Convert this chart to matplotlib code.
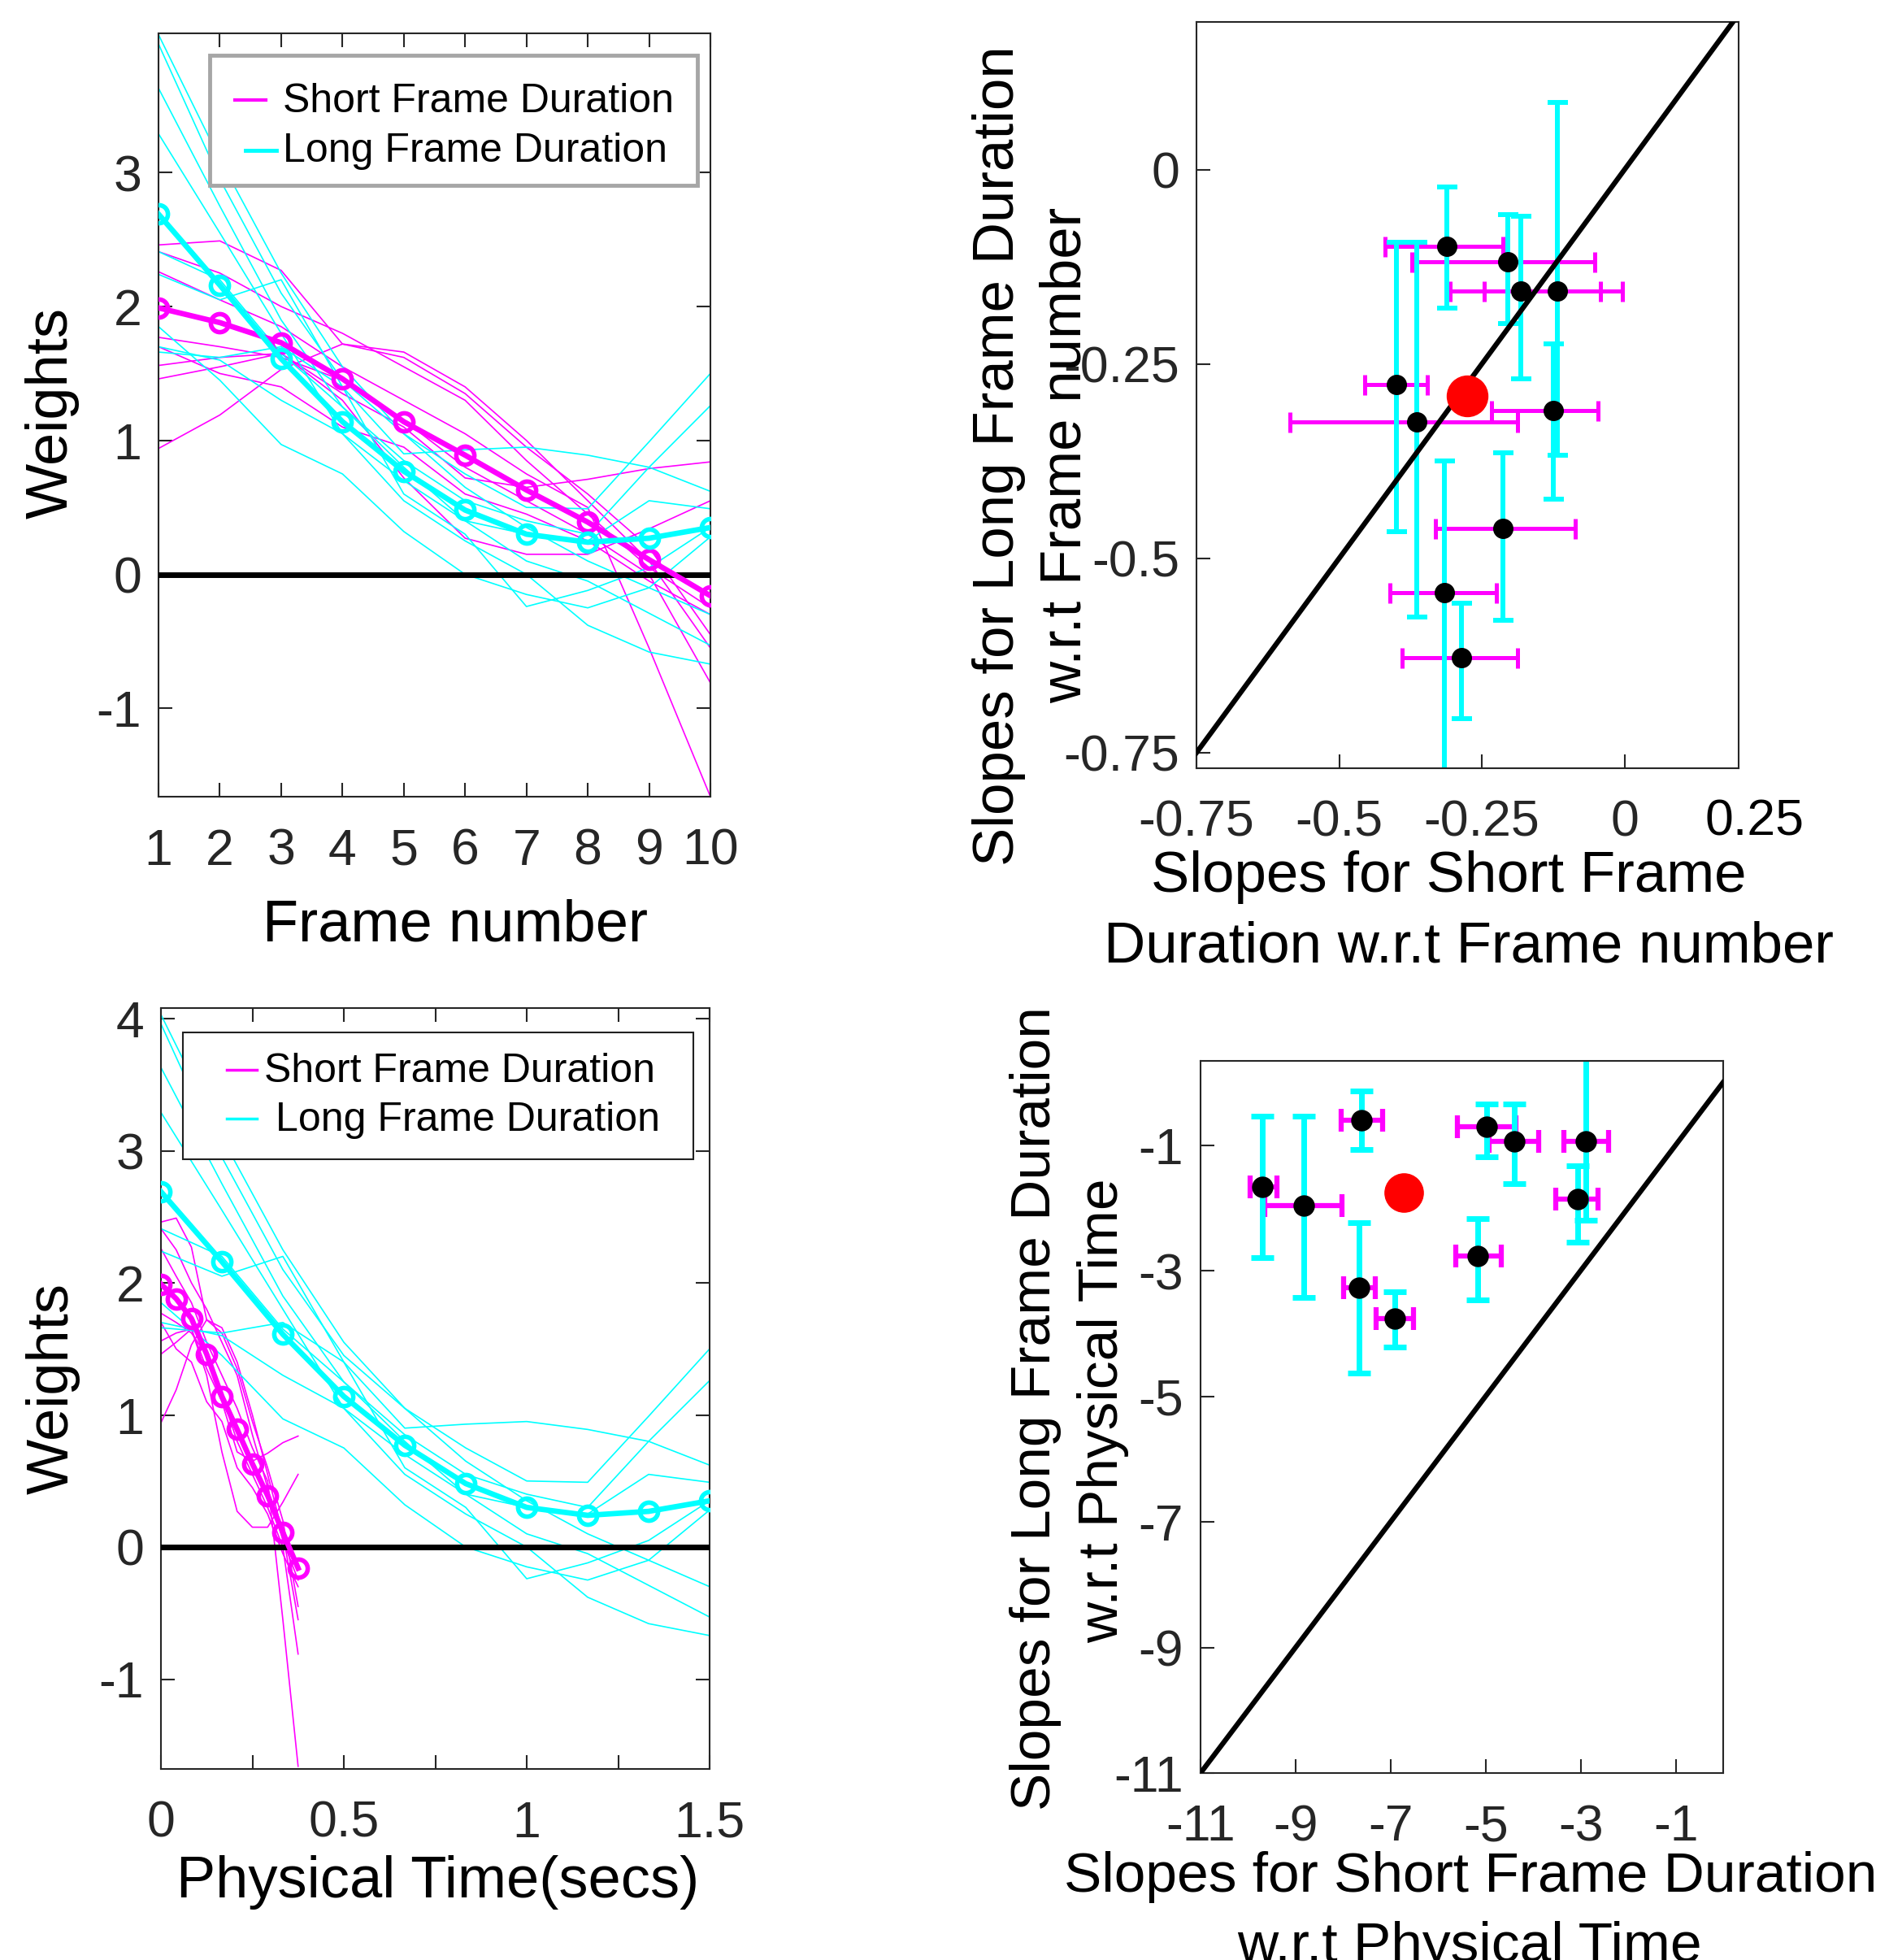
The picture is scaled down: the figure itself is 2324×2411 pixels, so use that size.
import numpy as np
import matplotlib
matplotlib.use("Agg")
import matplotlib.pyplot as plt
from matplotlib.lines import Line2D
from matplotlib.patches import Rectangle

plt.rcParams['font.family'] = ['Liberation Sans', 'DejaVu Sans']
plt.rcParams['axes.unicode_minus'] = False

W, H = 2324, 2411
MAG = '#ff00ff'
CYA = '#00ffff'
TICKC = '#262626'

# ---------------- data ----------------
frames = np.arange(1, 11)
t_short = (frames - 1) / 24.0
t_long = (frames - 1) / 6.0

short_mean = [1.99, 1.88, 1.73, 1.46, 1.14, 0.89, 0.63, 0.39, 0.11, -0.16]
long_mean = [2.69, 2.16, 1.61, 1.14, 0.77, 0.48, 0.30, 0.24, 0.27, 0.35]

short_subj = [
    [2.46, 2.49, 2.27, 1.72, 1.62, 1.35, 0.95, 0.60, 0.20, -0.45],
    [2.41, 2.25, 2.00, 1.80, 1.55, 1.30, 0.85, 0.45, 0.05, -0.25],
    [2.26, 2.05, 1.85, 1.55, 1.30, 1.05, 0.75, 0.50, -0.55, -1.66],
    [1.77, 1.70, 1.62, 1.45, 1.15, 0.80, 0.55, 0.30, 0.00, -0.81],
    [1.56, 1.62, 1.65, 1.35, 1.10, 0.72, 0.65, 0.71, 0.79, 0.84],
    [1.46, 1.55, 1.65, 1.30, 0.72, 0.27, 0.15, 0.15, 0.34, 0.55],
    [0.94, 1.19, 1.53, 1.72, 1.66, 1.40, 1.00, 0.55, 0.10, -0.55],
    [1.70, 1.50, 1.40, 1.10, 0.95, 0.60, 0.45, 0.25, -0.05, -0.30],
]
long_subj = [
    [4.03, 3.10, 2.25, 1.55, 1.05, 0.65, 0.35, 0.10, -0.10, -0.30],
    [3.96, 2.95, 2.10, 1.45, 1.05, 0.75, 0.50, 0.49, 0.99, 1.50],
    [3.63, 2.75, 1.90, 1.25, 0.80, 0.40, 0.10, -0.05, -0.29, -0.53],
    [3.29, 2.55, 1.80, 1.05, 0.55, 0.25, 0.00, -0.38, -0.58, -0.67],
    [2.41, 2.20, 1.65, 1.25, 0.85, 0.55, 0.40, 0.30, 0.80, 1.26],
    [2.24, 2.05, 2.20, 1.40, 0.90, 0.93, 0.95, 0.89, 0.80, 0.62],
    [1.85, 1.45, 0.97, 0.75, 0.32, 0.00, -0.15, -0.25, -0.10, 0.28],
    [1.70, 1.60, 1.30, 1.05, 0.70, 0.40, 0.30, 0.25, 0.55, 0.49],
    [1.66, 1.62, 1.70, 1.40, 0.60, 0.30, -0.24, -0.12, 0.05, 0.35],
]

# slopes w.r.t frame number
short_fn = np.array([-0.311, -0.205, -0.181, -0.117, -0.400, -0.364, -0.125, -0.213, -0.315, -0.285])
long_fn = np.array([-0.099, -0.118, -0.156, -0.156, -0.276, -0.325, -0.310, -0.462, -0.544, -0.628])
short_fn_lo = np.array([-0.419, -0.373, -0.306, -0.246, -0.455, -0.586, -0.233, -0.331, -0.411, -0.390])
short_fn_hi = np.array([-0.2135, -0.052, -0.0425, -0.003, -0.346, -0.187, -0.046, -0.086, -0.225, -0.187])
long_fn_lo = np.array([-0.178, -0.198, -0.269, -0.367, -0.466, -0.575, -0.424, -0.580, -0.800, -0.706])
long_fn_hi = np.array([-0.0225, -0.058, -0.060, 0.086, -0.093, -0.093, -0.224, -0.364, -0.375, -0.558])
mean_fn = (-0.276, -0.291)

# slopes w.r.t physical time
short_pt = np.array([-9.70, -8.82, -7.61, -7.66, -6.91, -4.98, -4.40, -2.89, -3.06, -5.16])
long_pt = np.array([-1.67, -1.96, -0.61, -3.27, -3.77, -0.71, -0.94, -0.94, -1.86, -2.77])
short_pt_lo = np.array([-9.96, -9.65, -8.04, -7.99, -7.31, -5.60, -4.93, -3.36, -3.52, -5.63])
short_pt_hi = np.array([-9.40, -8.02, -7.16, -7.32, -6.52, -4.37, -3.88, -2.42, -2.64, -4.67])
long_pt_lo = np.array([-2.79, -3.43, -1.07, -4.63, -4.22, -1.19, -1.62, -2.20, -2.55, -3.47])
long_pt_hi = np.array([-0.54, -0.54, -0.14, -2.24, -3.33, -0.35, -0.35, 0.60, -1.33, -2.17])
mean_pt = (-6.73, -1.76)

legend_labels = ['Short Frame Duration', 'Long Frame Duration']

# ---------------- figure ----------------
fig = plt.figure(figsize=(W / 100, H / 100), dpi=100)


def axes_px(l, t, r, b):
    return fig.add_axes([l / W, 1 - b / H, (r - l) / W, (b - t) / H])


def ftext(x, y, s, **kw):
    fig.text(x / W, 1 - y / H, s, **kw)


def fline(x0, x1, y, **kw):
    fig.add_artist(Line2D([x0 / W, x1 / W], [1 - y / H, 1 - y / H],
                          transform=fig.transFigure, **kw))


def fbox(l, t, r, b, **kw):
    fig.add_artist(Rectangle((l / W, 1 - b / H), (r - l) / W, (b - t) / H,
                             transform=fig.transFigure, facecolor='white', **kw))


def style(ax, mirror):
    ax.tick_params(which='both', direction='in', length=12, width=1.5,
                   colors=TICKC, labelsize=45, top=mirror, right=mirror)
    ax.tick_params(axis='x', which='both', pad=27)
    ax.tick_params(axis='y', which='both', pad=15)
    for s in ax.spines.values():
        s.set_linewidth(1.5)
        s.set_color(TICKC)


def weights_panel(ax, xs_short, xs_long):
    for row in short_subj:
        ax.plot(xs_short, row, color=MAG, lw=1.2, zorder=2)
    for row in long_subj:
        ax.plot(xs_long, row, color=CYA, lw=1.2, zorder=2)
    ax.axhline(0, color='k', lw=5, zorder=3)
    ax.plot(xs_short, short_mean, color=MAG, lw=4.8, marker='o', ms=16,
            mfc='none', mew=4, zorder=4)
    ax.plot(xs_long, long_mean, color=CYA, lw=4.8, marker='o', ms=16,
            mfc='none', mew=4, zorder=5)


def slope_panel(ax, x, y, xlo, xhi, ylo, yhi, mean, lw_c, lw_m, cap, dot, red):
    ax.errorbar(x, y, xerr=[x - xlo, xhi - x], fmt='none', ecolor=MAG,
                elinewidth=lw_m, capsize=cap, capthick=lw_m, zorder=2)
    ax.errorbar(x, y, yerr=[y - ylo, yhi - y], fmt='none', ecolor=CYA,
                elinewidth=lw_c, capsize=cap, capthick=lw_c, zorder=2.5)
    ax.axline((0, 0), slope=1, color='k', lw=4.5, zorder=3)
    ax.plot(x, y, 'o', color='k', ms=dot, zorder=4)
    ax.plot([mean[0]], [mean[1]], 'o', color='red', ms=red, zorder=5)


# top left
ax1 = axes_px(195, 41, 874, 980)
weights_panel(ax1, frames, frames)
ax1.set_xlim(1, 10)
ax1.set_ylim(-1.66, 4.04)
ax1.set_xticks(frames)
ax1.set_yticks([-1, 0, 1, 2, 3])
style(ax1, True)
# legend box (drawn by hand to follow the original spacing)
fbox(258, 68, 858, 228, edgecolor='#a6a6a6', linewidth=3.5)
fline(289, 327, 123, color=MAG, lw=3)
fline(302, 340, 185, color=CYA, lw=3.5)
ftext(348, 138, legend_labels[0], ha='left', va='baseline', fontsize=36)
ftext(348, 199, legend_labels[1], ha='left', va='baseline', fontsize=36)
ftext(83, 508, 'Weights', rotation=90, rotation_mode='anchor', ha='center',
      va='baseline', fontsize=52)
ftext(560, 1157, 'Frame number', ha='center', va='baseline', fontsize=52)

# top right
ax2 = axes_px(1472, 27, 2139, 945)
slope_panel(ax2, short_fn, long_fn, short_fn_lo, short_fn_hi, long_fn_lo,
            long_fn_hi, mean_fn, 4.3, 3.6, 9, 17, 36)
ax2.set_xlim(-0.75, 0.2)
ax2.set_ylim(-0.77, 0.19)
ax2.set_xticks([-0.75, -0.5, -0.25, 0])
ax2.set_xticklabels(['-0.75', '-0.5', '-0.25', '0'])
ax2.set_yticks([-0.75, -0.5, -0.25, 0])
ax2.set_yticklabels(['-0.75', '-0.5', '-0.25', '0'])
style(ax2, False)
ftext(2158, 1028, '0.25', ha='center', va='baseline', fontsize=45, color='k')
ftext(1247, 561, 'Slopes for Long Frame Duration', rotation=90,
      rotation_mode='anchor', ha='center', va='baseline', fontsize=51)
ftext(1330, 560, 'w.r.t Frame number', rotation=90, rotation_mode='anchor',
      ha='center', va='baseline', fontsize=51)
ftext(1782, 1097, 'Slopes for Short Frame', ha='center', va='baseline', fontsize=51)
ftext(1807, 1183, 'Duration w.r.t Frame number', ha='center', va='baseline', fontsize=51)

# bottom left
ax3 = axes_px(198, 1240, 873, 2176)
weights_panel(ax3, t_short, t_long)
ax3.set_xlim(0, 1.5)
ax3.set_ylim(-1.68, 4.08)
ax3.set_xticks([0, 0.5, 1, 1.5])
ax3.set_xticklabels(['0', '0.5', '1', '1.5'])
ax3.set_xticks([0.25, 0.75, 1.25], minor=True)
ax3.set_yticks([-1, 0, 1, 2, 3, 4])
style(ax3, True)
fbox(225, 1270, 853, 1426, edgecolor='#202020', linewidth=1.5)
fline(279, 316, 1316, color=MAG, lw=2.5)
fline(279, 316, 1376, color=CYA, lw=2.5)
ftext(325, 1331, legend_labels[0], ha='left', va='baseline', fontsize=36)
ftext(339, 1391, legend_labels[1], ha='left', va='baseline', fontsize=36)
ftext(84, 1708, 'Weights', rotation=90, rotation_mode='anchor', ha='center',
      va='baseline', fontsize=52)
ftext(539, 2334, 'Physical Time(secs)', ha='center', va='baseline', fontsize=52)

# bottom right
ax4 = axes_px(1477, 1305, 2120, 2181)
slope_panel(ax4, short_pt, long_pt, short_pt_lo, short_pt_hi, long_pt_lo,
            long_pt_hi, mean_pt, 5, 4.5, 10, 18, 34)
ax4.set_xlim(-11, 0)
ax4.set_ylim(-11, 0.34)
ax4.set_xticks([-11, -9, -7, -5, -3, -1])
ax4.set_yticks([-11, -9, -7, -5, -3, -1])
style(ax4, False)
ftext(1292, 1733, 'Slopes for Long Frame Duration', rotation=90,
      rotation_mode='anchor', ha='center', va='baseline', fontsize=50)
ftext(1375, 1735, 'w.r.t Physical Time', rotation=90, rotation_mode='anchor',
      ha='center', va='baseline', fontsize=50)
ftext(1809, 2327, 'Slopes for Short Frame Duration', ha='center', va='baseline', fontsize=50)
ftext(1808, 2413, 'w.r.t Physical Time', ha='center', va='baseline', fontsize=50)

fig.savefig('out.png', dpi=100)
